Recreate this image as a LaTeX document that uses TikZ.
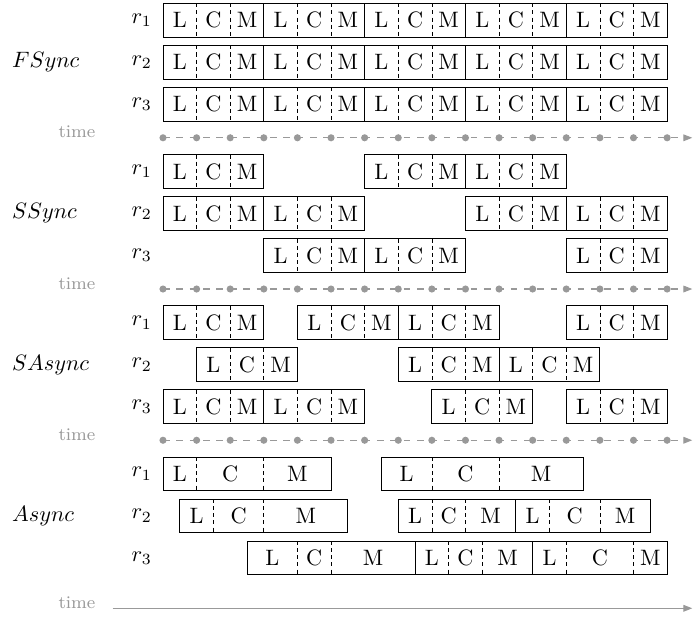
\documentclass[tikz,border=0pt]{standalone}
\usepackage{amsmath}
\usepackage{tikz}
\usetikzlibrary{arrows.meta,positioning}

\newcommand{\cellw}{0.53cm}
% one round of the robot: name, start, row, widths of L, C and M
\newcommand{\lcm}[6]{%
    \node[phase, minimum width=#4*\cellw, anchor=west] (#1-L) at (#2,#3) {L};
    \node[phase, minimum width=#5*\cellw, right=0pt of #1-L] (#1-C) {C};
    \node[phase, minimum width=#6*\cellw, right=0pt of #1-C] (#1-M) {M};
    \draw[frame] (#1-L.south west) rectangle (#1-M.north east);
    \draw[split] (#1-L.north east) -- (#1-L.south east);
    \draw[split] (#1-C.north east) -- (#1-C.south east);
}

\begin{document}
\begin{tikzpicture}[
        x=\cellw, y=\cellw,
        phase/.style={
            rectangle,
            inner sep=0pt,
            outer sep=0pt,
            minimum height=\cellw
        },
        frame/.style={draw=black, line width=0.4pt},
        split/.style={draw=black, line width=0.3pt, dash pattern=on 1.8pt off 1.4pt},
        modelabel/.style={anchor=west, inner sep=0pt},
        robotlabel/.style={anchor=east, xshift=-1.5pt},
        timelabel/.style={anchor=base east, inner sep=0pt, font=\footnotesize, text=black!40},
        timeaxis/.style={draw=black!40, line width=0.5pt, -{Triangle[length=4pt, width=3pt]}},
        tick/.style={fill=black!40}
    ]
    \useasboundingbox (-4.85,0.1) rectangle (15.8,-18.27);

    \node[modelabel] (fsync) at (-4.5,-1.75) {$FSync$};
    \node[modelabel] (ssync) at (-4.5,-6.25) {$SSync$};
    \node[modelabel] (sasync) at (-4.5,-10.75) {$SAsync$};
    \node[modelabel] (async) at (-4.5,-15.25) {$Async$};

    \foreach \row/\y [count=\n] in {1/-0.5, 2/-1.75, 3/-3, 1/-5, 2/-6.25, 3/-7.5, 1/-9.5, 2/-10.75, 3/-12, 1/-14, 2/-15.25, 3/-16.5}
        \node[robotlabel] (robot\n) at (0,\y) {$r_\row$};

    \foreach \row/\y in {1/-0.5, 2/-1.75, 3/-3} {
        \foreach \grp in {0,...,4} {
            \lcm{fs\row\grp}{3*\grp}{\y}{1}{1}{1}
        }
    }

    \foreach \s in {0,6,9} {\lcm{ssa\s}{\s}{-5}{1}{1}{1}}
    \foreach \s in {0,3,9,12} {\lcm{ssb\s}{\s}{-6.25}{1}{1}{1}}
    \foreach \s in {3,6,12} {\lcm{ssc\s}{\s}{-7.5}{1}{1}{1}}

    \foreach \s in {0,4,7,12} {\lcm{saa\s}{\s}{-9.5}{1}{1}{1}}
    \foreach \s in {1,7,10} {\lcm{sab\s}{\s}{-10.75}{1}{1}{1}}
    \foreach \s in {0,3,8,12} {\lcm{sac\s}{\s}{-12}{1}{1}{1}}

    \lcm{asa1}{0}{-14}{1}{2}{2}
    \lcm{asa2}{6.5}{-14}{1.5}{2}{2.5}
    \lcm{asb1}{0.5}{-15.25}{1}{1.5}{2.5}
    \lcm{asb2}{7}{-15.25}{1}{1}{1.5}
    \lcm{asb3}{10.5}{-15.25}{1}{1.5}{1.5}
    \lcm{asc1}{2.5}{-16.5}{1.5}{1}{2.5}
    \lcm{asc2}{7.5}{-16.5}{1}{1}{1.5}
    \lcm{asc3}{11}{-16.5}{1}{2}{1}

    \foreach \t/\y in {1/-4, 2/-8.5, 3/-13} {
        \node[timelabel] (time\t) at (-2,\y) {time};
        \coordinate (axis\t-start) at (0,\y);
        \coordinate (axis\t-end) at (15.75,\y);
        \draw[timeaxis, dash pattern=on 3pt off 3pt] (axis\t-start) -- (axis\t-end);
        \foreach \i in {0,...,15} {
            \fill[tick] (\i,\y) circle (1.6pt);
        }
    }

    \node[timelabel] (time4) at (-2,-18) {time};
    \coordinate (axis4-start) at (-1.5,-18);
    \coordinate (axis4-end) at (15.75,-18);
    \draw[timeaxis] (axis4-start) -- (axis4-end);
\end{tikzpicture}
\end{document}
